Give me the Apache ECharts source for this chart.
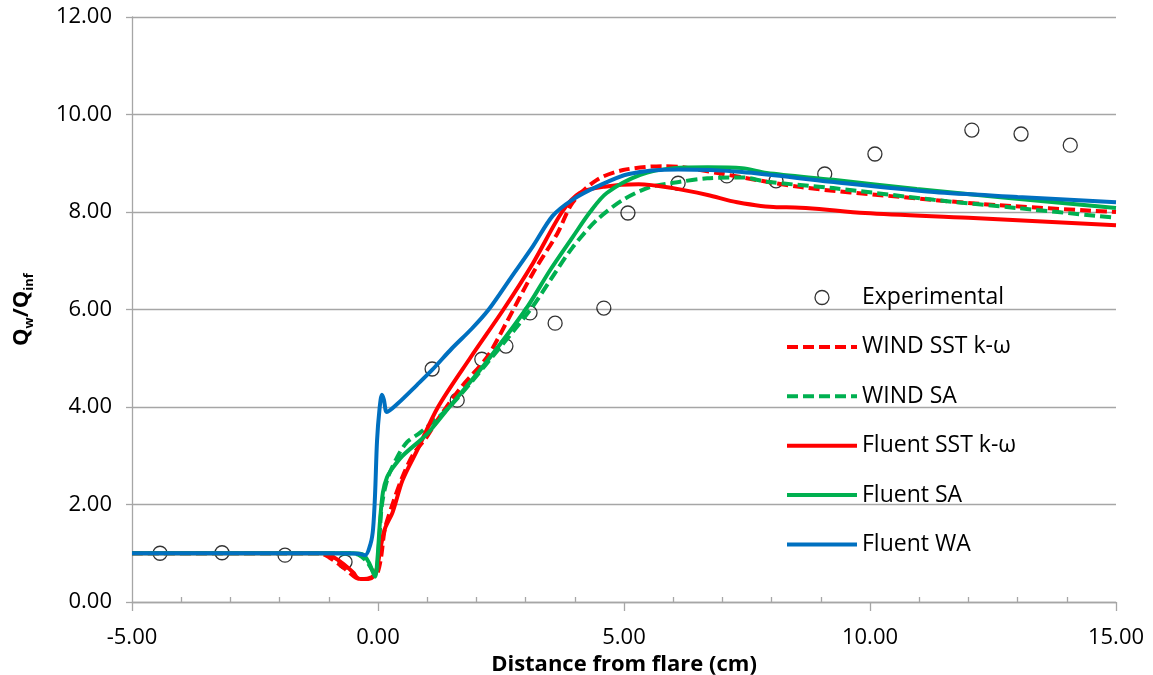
<!DOCTYPE html>
<html>
<head>
<meta charset="utf-8">
<title>Heat flux ratio along the flare</title>
<script src="https://cdn.jsdelivr.net/npm/echarts@6/dist/echarts.min.js"></script>
<style>
  html, body { margin: 0; padding: 0; background: #ffffff; }
  #chart { width: 1153px; height: 675px; }
</style>
</head>
<body>
<div id="chart"></div>
<script>
// Distance from flare (cm) and Qw/Qinf for each data set
const expX = [-4.43, -3.17, -1.89, -0.67, 1.10, 1.61, 2.11, 2.60, 3.09, 3.60, 4.59, 5.08, 6.10, 7.09, 8.09, 9.08, 10.10, 12.07, 13.07, 14.07];
const expY = [1.00, 1.01, 0.96, 0.82, 4.78, 4.14, 4.98, 5.25, 5.93, 5.72, 6.03, 7.98, 8.59, 8.74, 8.64, 8.78, 9.19, 9.68, 9.60, 9.37];

const windSstX = [-5, -1.2, -1.0, -0.8, -0.6, -0.45, -0.3, -0.15, -0.02, 0.06, 0.14, 0.31, 0.49, 0.71, 1.0, 1.22, 1.67, 2.22, 2.62, 3.15, 3.64, 3.96, 4.45, 4.98, 5.8, 6.2, 6.9, 8.6, 10.6, 12.6, 15];
const windSstY = [1.0, 1.0, 0.92, 0.78, 0.62, 0.5, 0.47, 0.5, 0.58, 0.9, 1.5, 2.05, 2.55, 3.02, 3.4, 3.75, 4.38, 5.03, 5.75, 6.75, 7.55, 8.2, 8.66, 8.86, 8.94, 8.92, 8.8, 8.51, 8.31, 8.14, 8.0];

const windSaX = [-5, -0.6, -0.4, -0.22, -0.1, -0.04, 0.02, 0.08, 0.2, 0.39, 0.59, 0.85, 1.45, 2.2, 3.1, 3.5, 3.96, 4.45, 4.98, 5.53, 6.14, 6.69, 7.4, 7.9, 9.25, 11.3, 13.0, 15];
const windSaY = [1.0, 1.0, 0.97, 0.82, 0.63, 0.58, 1.2, 2.0, 2.55, 2.97, 3.28, 3.47, 4.0, 4.88, 6.0, 6.6, 7.28, 7.84, 8.25, 8.51, 8.62, 8.69, 8.71, 8.62, 8.49, 8.25, 8.08, 7.88];

const fluentSstX = [-5, -1.1, -0.9, -0.7, -0.5, -0.4, -0.25, -0.12, -0.02, 0.05, 0.14, 0.3, 0.5, 0.8, 1.22, 1.87, 2.55, 3.15, 3.74, 4.1, 4.6, 5.3, 6.0, 6.7, 7.3, 8.1, 8.3, 9.9, 12.0, 15];
const fluentSstY = [1.0, 1.0, 0.92, 0.78, 0.6, 0.48, 0.47, 0.5, 0.7, 1.1, 1.5, 1.85, 2.5, 3.12, 4.0, 5.0, 6.0, 6.95, 8.0, 8.39, 8.52, 8.57, 8.49, 8.35, 8.2, 8.1, 8.1, 7.98, 7.88, 7.73];

const fluentSaX = [-5, -0.5, -0.3, -0.18, -0.06, -0.01, 0.04, 0.1, 0.18, 0.3, 0.5, 1.0, 1.45, 2.2, 3.0, 3.5, 3.96, 4.31, 4.65, 5.33, 6.0, 6.7, 7.4, 7.9, 9.25, 10.95, 12.6, 15];
const fluentSaY = [1.0, 1.0, 0.97, 0.8, 0.52, 0.9, 1.65, 2.25, 2.55, 2.75, 3.0, 3.45, 4.0, 4.92, 6.0, 6.81, 7.49, 8.0, 8.39, 8.76, 8.9, 8.92, 8.9, 8.8, 8.66, 8.47, 8.31, 8.08];

const fluentWaX = [-5, -1.0, -0.4, -0.26, -0.15, -0.1, -0.06, -0.02, 0.03, 0.08, 0.12, 0.18, 0.39, 0.79, 1.1, 1.5, 1.9, 2.25, 2.7, 3.15, 3.55, 3.95, 4.45, 5.1, 6.1, 7.4, 9.2, 11.3, 13.0, 15];
const fluentWaY = [1.0, 1.0, 0.99, 0.96, 1.2, 1.5, 2.2, 3.3, 3.95, 4.25, 4.15, 3.9, 4.06, 4.45, 4.76, 5.2, 5.6, 6.0, 6.65, 7.3, 7.92, 8.25, 8.52, 8.78, 8.87, 8.82, 8.62, 8.41, 8.31, 8.2];

const xTicks = { min: -5, max: 15, step: 5 };
const yTicks = { min: 0, max: 12, step: 2 };

const zip = (xs, ys) => xs.map((x, i) => [x, ys[i]]);

const FONT = '"Open Sans", "Noto Sans", sans-serif';
const AXIS_GREY = '#A6A6A6';
const RED = '#FF0000';
const GREEN = '#00B050';
const BLUE = '#0070C0';
const LINE_W = 4;
const DASH = [11, 5];

function lineSeries(name, xs, ys, color, dashed) {
  return {
    name: name,
    type: 'line',
    data: zip(xs, ys),
    smooth: 0.3,
    showSymbol: false,
    symbol: 'none',
    lineStyle: { color: color, width: LINE_W, type: dashed ? DASH : 'solid', cap: 'butt' },
    itemStyle: { color: color },
    emphasis: { disabled: true }
  };
}

// legend entries for the curves show only the stroke, no marker
const curveEntry = (name, color, dashed) => ({
  name: name,
  itemStyle: { opacity: 0 },
  lineStyle: { color: color, width: LINE_W, type: dashed ? DASH : 'solid' }
});

const chart = echarts.init(document.getElementById('chart'), null, { renderer: 'canvas' });

chart.setOption({
  animation: false,
  backgroundColor: '#ffffff',
  textStyle: { fontFamily: FONT },
  grid: { left: 132, right: 37, top: 17, bottom: 73, containLabel: false, outerBoundsMode: 'none' },
  legend: {
    orient: 'vertical',
    left: 785,
    top: 286,
    padding: 0,
    itemWidth: 70,
    itemHeight: 14,
    itemGap: 26.4,
    selectedMode: false,
    textStyle: { fontSize: 23, color: '#000', fontFamily: FONT, lineHeight: 22 },
    data: [
      { name: 'Experimental', itemStyle: { color: '#ffffff', borderColor: '#000', borderWidth: 1.3 } },
      curveEntry('WIND SST k-ω', RED, true),
      curveEntry('WIND SA', GREEN, true),
      curveEntry('Fluent SST k-ω', RED, false),
      curveEntry('Fluent SA', GREEN, false),
      curveEntry('Fluent WA', BLUE, false)
    ]
  },
  xAxis: {
    type: 'value',
    min: xTicks.min,
    max: xTicks.max,
    interval: xTicks.step,
    name: 'Distance from flare (cm)',
    nameLocation: 'middle',
    nameGap: 48,
    nameTextStyle: { fontSize: 22, fontWeight: 'bold', color: '#000', fontFamily: FONT },
    axisLine: { show: true, onZero: false, lineStyle: { color: AXIS_GREY, width: 1.3 } },
    axisTick: { show: true, length: 9, lineStyle: { color: AXIS_GREY, width: 1.3 } },
    minorTick: { show: true, splitNumber: 5, length: -5, lineStyle: { color: AXIS_GREY, width: 1.3 } },
    splitLine: { show: false },
    axisLabel: {
      fontSize: 22, color: '#000', margin: 25, fontFamily: FONT,
      formatter: v => v.toFixed(2)
    }
  },
  yAxis: {
    type: 'value',
    min: yTicks.min,
    max: yTicks.max,
    interval: yTicks.step,
    name: '{q|Q}{s|w}{q|/Q}{s|inf}',
    nameLocation: 'middle',
    nameGap: 96,
    nameTextStyle: {
      fontFamily: FONT,
      rich: {
        q: { fontSize: 22, fontWeight: 'bold', color: '#000', lineHeight: 28, fontFamily: FONT },
        s: { fontSize: 13, fontWeight: 'bold', color: '#000', lineHeight: 13, verticalAlign: 'bottom', fontFamily: FONT }
      }
    },
    axisLine: { show: true, onZero: false, lineStyle: { color: AXIS_GREY, width: 1.3 } },
    axisTick: { show: true, length: 6, lineStyle: { color: AXIS_GREY, width: 1.3 } },
    splitLine: { show: true, lineStyle: { color: AXIS_GREY, width: 1.3 } },
    axisLabel: {
      fontSize: 22, color: '#000', margin: 20, fontFamily: FONT,
      formatter: v => v.toFixed(2)
    }
  },
  series: [
    {
      name: 'Experimental',
      type: 'scatter',
      data: zip(expX, expY),
      symbol: 'circle',
      symbolSize: 14,
      itemStyle: { color: 'rgba(255,255,255,0)', borderColor: '#000', borderWidth: 1.3 },
      emphasis: { disabled: true }
    },
    lineSeries('WIND SST k-ω', windSstX, windSstY, RED, true),
    lineSeries('WIND SA', windSaX, windSaY, GREEN, true),
    lineSeries('Fluent SST k-ω', fluentSstX, fluentSstY, RED, false),
    lineSeries('Fluent SA', fluentSaX, fluentSaY, GREEN, false),
    lineSeries('Fluent WA', fluentWaX, fluentWaY, BLUE, false)
  ]
});
</script>
</body>
</html>
